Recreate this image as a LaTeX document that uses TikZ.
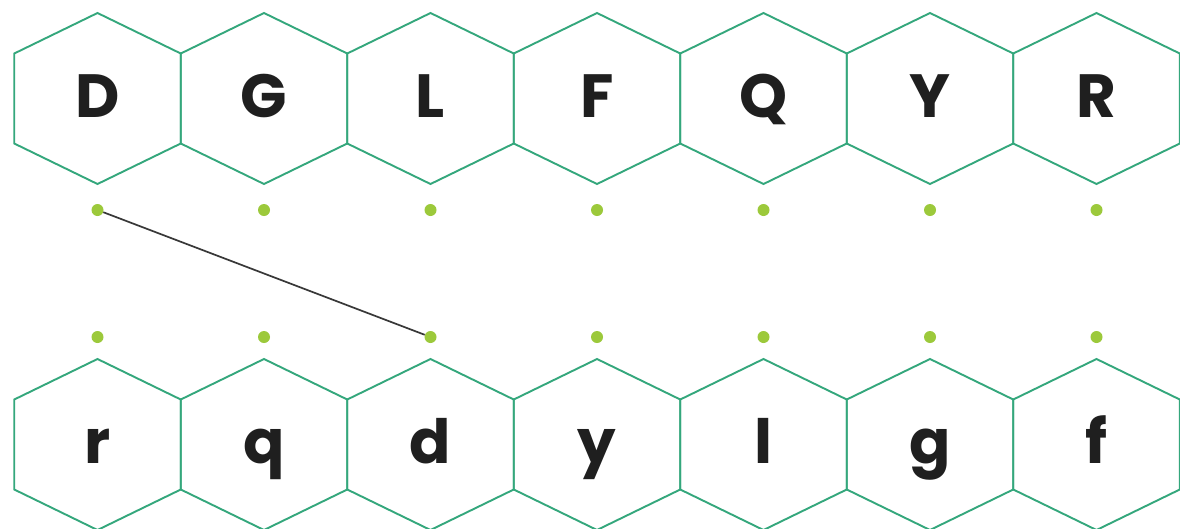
\documentclass[tikz,border=0pt]{standalone}
\usepackage{fontspec}
\setmainfont{Poppins}
\usetikzlibrary{calc}
\definecolor{hexgreen}{HTML}{34A77C}
\definecolor{dotgreen}{HTML}{9CC93B}
\tikzset{
    hexline/.style={draw=hexgreen,line width=1.9pt,line join=miter},
    letter/.style={anchor=base,inner sep=0pt,text=black!88,
        font=\fontsize{61}{61}\selectfont\bfseries},
    pin/.style={circle,fill=dotgreen,inner sep=0pt,minimum size=12pt},
    link/.style={draw=black!78,line width=1.7pt},
}

\begin{document}
\begin{tikzpicture}[x=1pt,y=-1pt]
    \fill[white] (0,0) rectangle (1180,528);
    \useasboundingbox (0,0) rectangle (1180,528);

    % upper row of hexagons
    \foreach \ltr [count=\i from 0] in {D,G,L,F,Q,Y,R} {
        \coordinate (hu\i) at (97.5+166.5*\i,98.5);
        \draw[hexline] ($(hu\i)+(0,-85.5)$) -- ++(83.25,40.5) -- ++(0,90)
            -- ++(-83.25,40.5) -- ++(-83.25,-40.5) -- ++(0,-90) -- cycle;
        \node[letter] (up\i) at ($(hu\i)+(0,18.5)$) {\ltr};
        \node[pin] (t\i) at (97.5+166.5*\i,210) {};
    }

    % lower row of hexagons
    \foreach \ltr [count=\i from 0] in {r,q,d,y,l,g,f} {
        \coordinate (hl\i) at (97.5+166.5*\i,444.5);
        \draw[hexline] ($(hl\i)+(0,-85.5)$) -- ++(83.25,40.5) -- ++(0,90)
            -- ++(-83.25,40.5) -- ++(-83.25,-40.5) -- ++(0,-90) -- cycle;
        \node[letter] (lo\i) at ($(hl\i)+(0,18.5)$) {\ltr};
        \node[pin] (b\i) at (97.5+166.5*\i,337) {};
    }

    \draw[link] (t0) -- (b2);
\end{tikzpicture}
\end{document}
